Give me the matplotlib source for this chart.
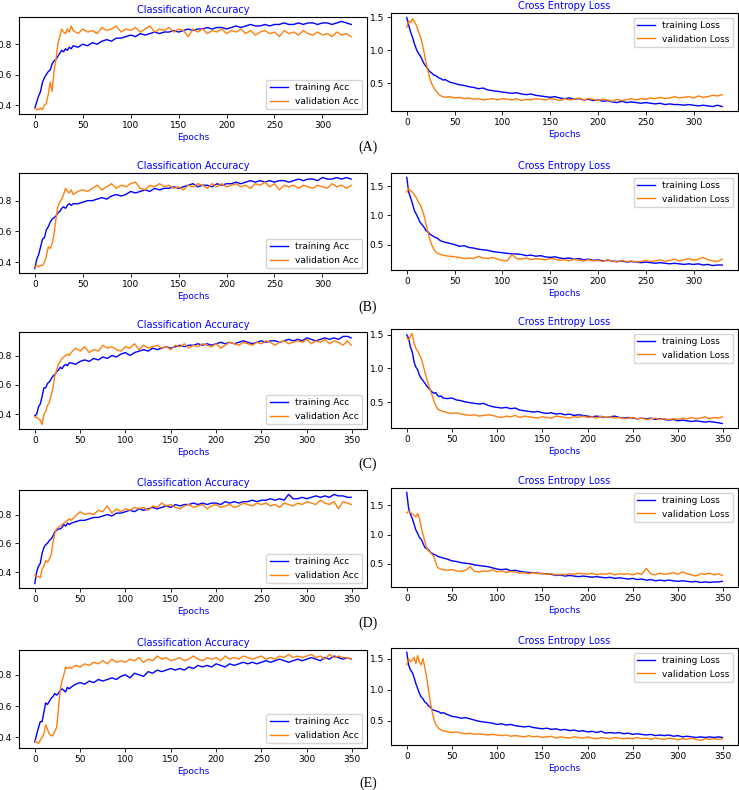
import numpy as np
import matplotlib
matplotlib.use("Agg")
import matplotlib.pyplot as plt

# epoch grid: every 2 epochs up to 40, then every 5
EP_EARLY = list(range(0, 41, 2))
EPOCHS_AB = EP_EARLY + list(range(45, 331, 5))
EPOCHS_CDE = EP_EARLY + list(range(45, 346, 5)) + [349]

# ---- (A) ----
A_train_acc = [0.38, 0.42, 0.46, 0.49, 0.55, 0.58, 0.60, 0.62, 0.63, 0.67, 0.69, 0.70, 0.72, 0.74, 0.76, 0.75, 0.77, 0.76, 0.78, 0.77, 0.79,
               0.78, 0.80, 0.79, 0.81, 0.80, 0.82, 0.83, 0.82, 0.84, 0.84,
               0.85, 0.86, 0.85, 0.87, 0.86, 0.87, 0.88, 0.87, 0.88, 0.88,
               0.89, 0.88, 0.89, 0.90, 0.89, 0.90, 0.90, 0.91, 0.90, 0.91,
               0.91, 0.90, 0.91, 0.92, 0.91, 0.92, 0.93, 0.92, 0.92, 0.93,
               0.92, 0.93, 0.93, 0.94, 0.93, 0.93, 0.94, 0.93, 0.94, 0.94,
               0.93, 0.94, 0.94, 0.93, 0.94, 0.95, 0.94, 0.93]
A_val_acc = [0.38, 0.37, 0.37, 0.38, 0.37, 0.40, 0.41, 0.47, 0.55, 0.49, 0.62, 0.70, 0.80, 0.85, 0.90, 0.88, 0.87, 0.90, 0.88, 0.92, 0.89,
             0.87, 0.90, 0.88, 0.89, 0.87, 0.91, 0.89, 0.90, 0.92, 0.88,
             0.90, 0.89, 0.91, 0.88, 0.90, 0.92, 0.88, 0.90, 0.89, 0.91,
             0.88, 0.90, 0.89, 0.85, 0.90, 0.88, 0.90, 0.87, 0.89, 0.88,
             0.90, 0.87, 0.89, 0.88, 0.90, 0.87, 0.89, 0.86, 0.88, 0.89,
             0.87, 0.88, 0.85, 0.89, 0.87, 0.88, 0.86, 0.89, 0.87, 0.86,
             0.88, 0.86, 0.87, 0.85, 0.88, 0.86, 0.87, 0.85]
A_train_loss = [1.50, 1.38, 1.28, 1.20, 1.10, 1.02, 0.96, 0.92, 0.86, 0.80, 0.76, 0.72, 0.68, 0.66, 0.63, 0.62, 0.60, 0.58, 0.57, 0.55, 0.56,
                0.52, 0.50, 0.48, 0.47, 0.45, 0.44, 0.42, 0.43, 0.40, 0.39,
                0.38, 0.37, 0.36, 0.35, 0.36, 0.34, 0.33, 0.34, 0.32, 0.31,
                0.30, 0.29, 0.30, 0.28, 0.27, 0.28, 0.26, 0.27, 0.25, 0.26,
                0.24, 0.25, 0.23, 0.24, 0.22, 0.21, 0.23, 0.21, 0.22, 0.21,
                0.20, 0.21, 0.20, 0.19, 0.20, 0.18, 0.19, 0.18, 0.18, 0.17,
                0.18, 0.17, 0.16, 0.17, 0.16, 0.15, 0.17, 0.15]
A_val_loss = [1.35, 1.45, 1.42, 1.48, 1.44, 1.38, 1.30, 1.22, 1.12, 0.98, 0.82, 0.70, 0.58, 0.50, 0.44, 0.40, 0.36, 0.33, 0.31, 0.30, 0.29,
              0.30, 0.28, 0.29, 0.27, 0.28, 0.26, 0.27, 0.25, 0.26, 0.27,
              0.25, 0.27, 0.26, 0.25, 0.27, 0.24, 0.26, 0.25, 0.27, 0.26,
              0.25, 0.27, 0.26, 0.24, 0.27, 0.25, 0.26, 0.28, 0.25, 0.27,
              0.26, 0.24, 0.26, 0.25, 0.23, 0.26, 0.24, 0.25, 0.27, 0.25,
              0.27, 0.26, 0.28, 0.27, 0.29, 0.27, 0.28, 0.30, 0.28, 0.29,
              0.30, 0.28, 0.31, 0.29, 0.30, 0.32, 0.31, 0.33]

# ---- (B) ----
B_train_acc = [0.36, 0.42, 0.45, 0.50, 0.55, 0.56, 0.61, 0.63, 0.66, 0.68, 0.69, 0.70, 0.72, 0.73, 0.75, 0.76, 0.75, 0.77, 0.78, 0.77, 0.78,
               0.78, 0.79, 0.80, 0.80, 0.81, 0.82, 0.81, 0.83, 0.84, 0.83,
               0.84, 0.86, 0.85, 0.86, 0.87, 0.86, 0.88, 0.87, 0.88, 0.88,
               0.89, 0.88, 0.89, 0.90, 0.91, 0.89, 0.90, 0.90, 0.89, 0.91,
               0.90, 0.91, 0.91, 0.92, 0.91, 0.92, 0.93, 0.92, 0.93, 0.92,
               0.93, 0.92, 0.93, 0.93, 0.92, 0.93, 0.94, 0.93, 0.94, 0.94,
               0.93, 0.95, 0.94, 0.94, 0.95, 0.94, 0.95, 0.94]
B_val_acc = [0.37, 0.38, 0.37, 0.38, 0.38, 0.40, 0.44, 0.50, 0.49, 0.52, 0.58, 0.68, 0.76, 0.79, 0.81, 0.84, 0.88, 0.86, 0.85, 0.87, 0.84,
             0.86, 0.87, 0.86, 0.88, 0.90, 0.87, 0.89, 0.91, 0.88, 0.90,
             0.89, 0.91, 0.92, 0.88, 0.87, 0.90, 0.89, 0.91, 0.89, 0.90,
             0.88, 0.89, 0.87, 0.90, 0.89, 0.91, 0.90, 0.88, 0.91, 0.89,
             0.91, 0.89, 0.90, 0.91, 0.89, 0.90, 0.88, 0.91, 0.90, 0.92,
             0.89, 0.91, 0.87, 0.90, 0.89, 0.90, 0.88, 0.90, 0.89, 0.88,
             0.90, 0.89, 0.88, 0.91, 0.89, 0.90, 0.88, 0.90]
B_train_loss = [1.65, 1.40, 1.30, 1.20, 1.08, 1.02, 0.95, 0.88, 0.84, 0.80, 0.74, 0.72, 0.68, 0.66, 0.64, 0.62, 0.61, 0.58, 0.56, 0.55, 0.54,
                0.52, 0.50, 0.47, 0.48, 0.45, 0.44, 0.42, 0.41, 0.40, 0.38,
                0.37, 0.36, 0.35, 0.34, 0.34, 0.33, 0.31, 0.32, 0.30, 0.31,
                0.29, 0.28, 0.29, 0.27, 0.26, 0.27, 0.25, 0.26, 0.24, 0.25,
                0.23, 0.24, 0.22, 0.23, 0.22, 0.21, 0.22, 0.20, 0.21, 0.20,
                0.19, 0.20, 0.19, 0.18, 0.19, 0.18, 0.17, 0.18, 0.17, 0.16,
                0.17, 0.16, 0.17, 0.15, 0.16, 0.14, 0.15, 0.15]
B_val_loss = [1.40, 1.46, 1.42, 1.40, 1.35, 1.30, 1.24, 1.18, 1.10, 1.00, 0.86, 0.72, 0.60, 0.50, 0.43, 0.38, 0.35, 0.34, 0.33, 0.32, 0.31,
              0.30, 0.29, 0.28, 0.26, 0.27, 0.26, 0.30, 0.27, 0.26, 0.28,
              0.25, 0.23, 0.22, 0.33, 0.26, 0.25, 0.27, 0.24, 0.26, 0.25,
              0.24, 0.26, 0.25, 0.23, 0.24, 0.22, 0.25, 0.23, 0.22, 0.24,
              0.22, 0.23, 0.21, 0.24, 0.22, 0.20, 0.23, 0.21, 0.22, 0.20,
              0.21, 0.23, 0.21, 0.22, 0.24, 0.21, 0.23, 0.25, 0.22, 0.24,
              0.26, 0.23, 0.25, 0.28, 0.24, 0.22, 0.21, 0.25]

# ---- (C) ----
C_train_acc = [0.39, 0.40, 0.45, 0.47, 0.52, 0.58, 0.58, 0.61, 0.62, 0.64, 0.66, 0.67, 0.69, 0.70, 0.72, 0.71, 0.73, 0.74, 0.73, 0.75, 0.75,
               0.74, 0.76, 0.77, 0.76, 0.78, 0.77, 0.79, 0.78, 0.80, 0.79,
               0.81, 0.82, 0.80, 0.82, 0.83, 0.84, 0.83, 0.85, 0.84, 0.85,
               0.86, 0.85, 0.86, 0.87, 0.86, 0.87, 0.87, 0.88, 0.87, 0.88,
               0.87, 0.88, 0.89, 0.88, 0.89, 0.88, 0.89, 0.90, 0.89, 0.88,
               0.89, 0.90, 0.89, 0.90, 0.90, 0.89, 0.90, 0.91, 0.90, 0.91,
               0.90, 0.92, 0.91, 0.90, 0.91, 0.92, 0.91, 0.92, 0.91, 0.93,
               0.93, 0.92]
C_val_acc = [0.38, 0.38, 0.37, 0.36, 0.33, 0.40, 0.42, 0.46, 0.48, 0.53, 0.58, 0.66, 0.70, 0.74, 0.76, 0.78, 0.79, 0.80, 0.81, 0.80, 0.82,
             0.85, 0.83, 0.86, 0.82, 0.84, 0.83, 0.87, 0.85, 0.86, 0.84,
             0.83, 0.86, 0.85, 0.88, 0.84, 0.87, 0.85, 0.86, 0.87, 0.85,
             0.86, 0.84, 0.87, 0.86, 0.88, 0.85, 0.87, 0.86, 0.88, 0.87,
             0.86, 0.88, 0.85, 0.87, 0.89, 0.88, 0.87, 0.89, 0.88, 0.87,
             0.89, 0.88, 0.90, 0.89, 0.87, 0.89, 0.90, 0.88, 0.89, 0.90,
             0.89, 0.91, 0.88, 0.90, 0.89, 0.91, 0.88, 0.90, 0.89, 0.87,
             0.90, 0.87]
C_train_loss = [1.50, 1.45, 1.32, 1.25, 1.10, 1.02, 0.98, 0.90, 0.85, 0.82, 0.78, 0.74, 0.71, 0.68, 0.65, 0.63, 0.64, 0.60, 0.58, 0.59, 0.56,
                0.55, 0.56, 0.53, 0.52, 0.50, 0.49, 0.48, 0.47, 0.48, 0.45,
                0.43, 0.42, 0.41, 0.42, 0.40, 0.41, 0.38, 0.37, 0.36, 0.35,
                0.36, 0.34, 0.33, 0.34, 0.32, 0.33, 0.31, 0.32, 0.30, 0.31,
                0.30, 0.29, 0.28, 0.29, 0.28, 0.27, 0.28, 0.29, 0.27, 0.26,
                0.27, 0.26, 0.25, 0.26, 0.25, 0.26, 0.24, 0.25, 0.24, 0.23,
                0.24, 0.22, 0.23, 0.22, 0.21, 0.22, 0.21, 0.20, 0.21, 0.20,
                0.19, 0.18]
C_val_loss = [1.45, 1.43, 1.48, 1.52, 1.38, 1.30, 1.26, 1.20, 1.15, 1.05, 0.95, 0.85, 0.76, 0.68, 0.60, 0.52, 0.45, 0.40, 0.38, 0.37, 0.36,
              0.34, 0.33, 0.34, 0.32, 0.31, 0.30, 0.31, 0.29, 0.30, 0.31,
              0.30, 0.28, 0.27, 0.29, 0.28, 0.30, 0.27, 0.29, 0.28, 0.27,
              0.26, 0.28, 0.27, 0.26, 0.29, 0.28, 0.27, 0.26, 0.28, 0.27,
              0.29, 0.27, 0.28, 0.26, 0.29, 0.27, 0.28, 0.26, 0.27, 0.25,
              0.26, 0.27, 0.25, 0.26, 0.24, 0.25, 0.26, 0.24, 0.25, 0.24,
              0.25, 0.24, 0.26, 0.25, 0.27, 0.25, 0.26, 0.28, 0.25, 0.27,
              0.26, 0.28]

# ---- (D) ----
D_train_acc = [0.32, 0.40, 0.44, 0.46, 0.53, 0.57, 0.59, 0.60, 0.62, 0.63, 0.65, 0.68, 0.69, 0.70, 0.70, 0.71, 0.73, 0.72, 0.74, 0.73, 0.74,
               0.75, 0.76, 0.76, 0.77, 0.78, 0.78, 0.79, 0.80, 0.79, 0.81,
               0.81, 0.82, 0.83, 0.82, 0.84, 0.83, 0.84, 0.85, 0.84, 0.85,
               0.86, 0.85, 0.87, 0.86, 0.87, 0.87, 0.88, 0.87, 0.88, 0.87,
               0.88, 0.88, 0.87, 0.89, 0.88, 0.89, 0.88, 0.89, 0.89, 0.90,
               0.89, 0.90, 0.90, 0.91, 0.90, 0.91, 0.90, 0.94, 0.91, 0.91,
               0.92, 0.91, 0.92, 0.93, 0.92, 0.93, 0.92, 0.94, 0.93, 0.93,
               0.92, 0.92]
D_val_acc = [0.38, 0.37, 0.37, 0.36, 0.42, 0.44, 0.48, 0.47, 0.49, 0.52, 0.60, 0.67, 0.70, 0.71, 0.72, 0.73, 0.74, 0.75, 0.76, 0.77, 0.76,
             0.79, 0.82, 0.80, 0.81, 0.80, 0.83, 0.82, 0.86, 0.81, 0.84,
             0.82, 0.84, 0.83, 0.85, 0.84, 0.85, 0.83, 0.86, 0.85, 0.88,
             0.86, 0.87, 0.85, 0.84, 0.86, 0.87, 0.85, 0.86, 0.87, 0.84,
             0.86, 0.87, 0.85, 0.86, 0.87, 0.85, 0.86, 0.88, 0.87, 0.86,
             0.88, 0.87, 0.88, 0.86, 0.87, 0.85, 0.88, 0.87, 0.86, 0.88,
             0.87, 0.89, 0.88, 0.87, 0.90, 0.88, 0.87, 0.89, 0.84, 0.89,
             0.88, 0.87]
D_train_loss = [1.72, 1.45, 1.35, 1.28, 1.18, 1.08, 1.02, 0.95, 0.92, 0.85, 0.78, 0.76, 0.74, 0.70, 0.68, 0.66, 0.65, 0.63, 0.62, 0.61, 0.60,
                0.58, 0.55, 0.54, 0.52, 0.51, 0.50, 0.48, 0.47, 0.46, 0.45,
                0.43, 0.41, 0.40, 0.41, 0.38, 0.39, 0.37, 0.36, 0.35, 0.35,
                0.34, 0.33, 0.33, 0.32, 0.30, 0.31, 0.29, 0.30, 0.29, 0.28,
                0.29, 0.28, 0.27, 0.28, 0.27, 0.26, 0.27, 0.25, 0.26, 0.25,
                0.24, 0.25, 0.23, 0.24, 0.22, 0.23, 0.21, 0.22, 0.21, 0.22,
                0.21, 0.20, 0.21, 0.20, 0.19, 0.20, 0.18, 0.19, 0.18, 0.19,
                0.19, 0.20]
D_val_loss = [1.37, 1.40, 1.38, 1.35, 1.33, 1.30, 1.36, 1.28, 1.12, 1.00, 0.88, 0.78, 0.72, 0.70, 0.66, 0.62, 0.52, 0.44, 0.42, 0.41, 0.40,
              0.39, 0.40, 0.38, 0.37, 0.39, 0.45, 0.37, 0.36, 0.38, 0.37,
              0.40, 0.36, 0.38, 0.35, 0.37, 0.36, 0.34, 0.35, 0.33, 0.35,
              0.33, 0.34, 0.32, 0.33, 0.31, 0.32, 0.31, 0.33, 0.32, 0.34,
              0.33, 0.32, 0.34, 0.31, 0.33, 0.32, 0.34, 0.31, 0.33, 0.32,
              0.33, 0.31, 0.34, 0.32, 0.42, 0.33, 0.31, 0.34, 0.32, 0.33,
              0.35, 0.32, 0.36, 0.33, 0.31, 0.29, 0.33, 0.32, 0.34, 0.31,
              0.33, 0.30]

# ---- (E) ----
E_train_acc = [0.37, 0.42, 0.46, 0.50, 0.50, 0.56, 0.62, 0.61, 0.63, 0.65, 0.66, 0.68, 0.67, 0.68, 0.70, 0.71, 0.70, 0.69, 0.72, 0.71, 0.72,
               0.74, 0.75, 0.74, 0.76, 0.75, 0.77, 0.76, 0.77, 0.78, 0.77,
               0.79, 0.80, 0.78, 0.81, 0.80, 0.79, 0.82, 0.81, 0.83, 0.82,
               0.83, 0.84, 0.83, 0.84, 0.83, 0.85, 0.84, 0.86, 0.85, 0.86,
               0.85, 0.87, 0.86, 0.85, 0.87, 0.86, 0.87, 0.88, 0.87, 0.88,
               0.87, 0.88, 0.89, 0.88, 0.89, 0.90, 0.89, 0.88, 0.89, 0.90,
               0.89, 0.90, 0.91, 0.90, 0.89, 0.91, 0.90, 0.92, 0.91, 0.90,
               0.91, 0.90]
E_val_acc = [0.38, 0.37, 0.36, 0.38, 0.40, 0.42, 0.48, 0.45, 0.42, 0.41, 0.41, 0.44, 0.46, 0.58, 0.70, 0.76, 0.80, 0.85, 0.84, 0.85, 0.84,
             0.86, 0.85, 0.87, 0.86, 0.88, 0.87, 0.89, 0.87, 0.90, 0.88,
             0.89, 0.88, 0.90, 0.89, 0.91, 0.88, 0.90, 0.89, 0.92, 0.90,
             0.91, 0.89, 0.90, 0.91, 0.89, 0.90, 0.92, 0.90, 0.89, 0.91,
             0.90, 0.91, 0.89, 0.92, 0.90, 0.91, 0.90, 0.92, 0.91, 0.90,
             0.91, 0.92, 0.90, 0.91, 0.90, 0.92, 0.91, 0.93, 0.91, 0.92,
             0.91, 0.92, 0.93, 0.91, 0.92, 0.90, 0.93, 0.91, 0.92, 0.91,
             0.91, 0.90]
E_train_loss = [1.60, 1.40, 1.32, 1.28, 1.20, 1.10, 1.02, 0.94, 0.88, 0.85, 0.80, 0.78, 0.74, 0.72, 0.68, 0.67, 0.66, 0.65, 0.64, 0.62, 0.63,
                0.60, 0.57, 0.56, 0.54, 0.55, 0.53, 0.51, 0.49, 0.48, 0.47,
                0.46, 0.44, 0.45, 0.43, 0.44, 0.42, 0.41, 0.40, 0.41, 0.39,
                0.38, 0.37, 0.38, 0.36, 0.37, 0.35, 0.36, 0.34, 0.35, 0.33,
                0.34, 0.32, 0.33, 0.31, 0.33, 0.30, 0.31, 0.30, 0.31, 0.29,
                0.30, 0.28, 0.29, 0.28, 0.27, 0.28, 0.26, 0.27, 0.26, 0.27,
                0.25, 0.26, 0.24, 0.25, 0.24, 0.23, 0.24, 0.23, 0.24, 0.23,
                0.24, 0.23]
E_val_loss = [1.40, 1.50, 1.45, 1.48, 1.52, 1.42, 1.55, 1.44, 1.40, 1.50, 1.35, 1.20, 1.00, 0.80, 0.65, 0.52, 0.44, 0.40, 0.37, 0.35, 0.34,
              0.32, 0.31, 0.32, 0.30, 0.29, 0.30, 0.28, 0.29, 0.28, 0.27,
              0.28, 0.27, 0.26, 0.27, 0.25, 0.26, 0.25, 0.24, 0.26, 0.24,
              0.25, 0.23, 0.24, 0.25, 0.22, 0.24, 0.23, 0.22, 0.24, 0.23,
              0.22, 0.24, 0.22, 0.21, 0.23, 0.22, 0.21, 0.23, 0.22, 0.21,
              0.22, 0.21, 0.23, 0.21, 0.22, 0.20, 0.22, 0.21, 0.20, 0.22,
              0.21, 0.19, 0.21, 0.20, 0.22, 0.20, 0.18, 0.21, 0.20, 0.21,
              0.20, 0.21]

PANEL_LABELS = ["(A)", "(B)", "(C)", "(D)", "(E)"]

rows = [
    (EPOCHS_AB, A_train_acc, A_val_acc, A_train_loss, A_val_loss),
    (EPOCHS_AB, B_train_acc, B_val_acc, B_train_loss, B_val_loss),
    (EPOCHS_CDE, C_train_acc, C_val_acc, C_train_loss, C_val_loss),
    (EPOCHS_CDE, D_train_acc, D_val_acc, D_train_loss, D_val_loss),
    (EPOCHS_CDE, E_train_acc, E_val_acc, E_train_loss, E_val_loss),
]

# axes boxes in pixels: (top, bottom) for left and right panel of each row
W, H = 739, 790
left_boxes = [(17, 114), (173, 273), (332, 429), (490, 588), (650, 748)]
right_boxes = [(13, 111), (173, 270), (329, 428), (488, 587), (648, 745)]
label_y = [147, 307, 464, 623, 783]

FS = 6.5
BLUE = "blue"
ORANGE = "#ff7f0e"

fig = plt.figure(figsize=(W / 100, H / 100), dpi=100)


def style(ax, xticks, yticks):
    ax.set_xticks(xticks)
    ax.set_yticks(yticks)
    ax.tick_params(labelsize=FS, length=3, width=0.6, pad=2)
    for s in ax.spines.values():
        s.set_linewidth(0.8)
    ax.set_xlabel("Epochs", color=BLUE, fontsize=FS, labelpad=2)


for i, (ep, tr_acc, va_acc, tr_loss, va_loss) in enumerate(rows):
    xt = list(range(0, 301, 50)) if ep[-1] < 340 else list(range(0, 351, 50))

    t, b = left_boxes[i]
    ax1 = fig.add_axes([19 / W, 1 - b / H, 348 / W, (b - t) / H])
    ax1.plot(ep, tr_acc, color=BLUE, lw=1.0, label="training Acc")
    ax1.plot(ep, va_acc, color=ORANGE, lw=1.0, label="validation Acc")
    ax1.set_title("Classification Accuracy", color=BLUE, fontsize=FS + 0.5, pad=3)
    style(ax1, xt, [0.4, 0.6, 0.8])
    ax1.legend(loc="lower right", fontsize=FS)

    t, b = right_boxes[i]
    ax2 = fig.add_axes([391 / W, 1 - b / H, 347 / W, (b - t) / H])
    ax2.plot(ep, tr_loss, color=BLUE, lw=1.0, label="training Loss")
    ax2.plot(ep, va_loss, color=ORANGE, lw=1.0, label="validation Loss")
    ax2.set_title("Cross Entropy Loss", color=BLUE, fontsize=FS + 0.5, pad=3)
    style(ax2, xt, [0.5, 1.0, 1.5])
    ax2.legend(loc="upper right", fontsize=FS)

    fig.text(368 / W, 1 - label_y[i] / H, PANEL_LABELS[i], ha="center", va="center",
             fontsize=10, family="Liberation Serif")

fig.savefig("out.png", dpi=100)
